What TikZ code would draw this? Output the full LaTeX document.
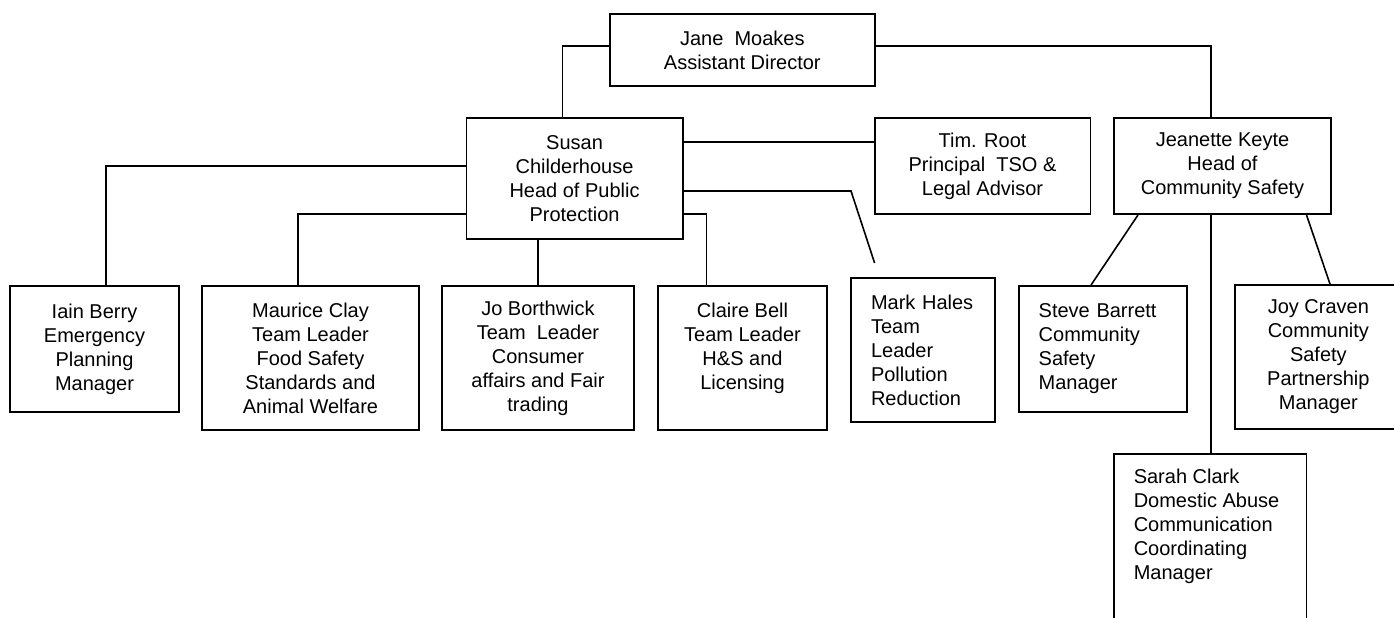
\documentclass[tikz,border=0pt]{standalone}
\usepackage{fontspec}
\setmainfont{Liberation Sans}
\tikzset{
  box/.style={draw, line width=1.9pt, inner sep=0pt, align=center,
    font=\fontsize{20}{24}\selectfont},
  leftbox/.style={box, align=left, inner xsep=20pt},
  txt/.style={inner sep=0pt, align=left, font=\fontsize{20}{24}\selectfont},
  link/.style={line width=1.6pt}
}
\begin{document}
\begin{tikzpicture}[x=1pt,y=-1pt]
\useasboundingbox (0,0) rectangle (1394,618);
\clip (0,0) rectangle (1394,618);
% boxes
\node[box, minimum width=264.6pt, minimum height=72pt] (jane) at (742.3,50) {Jane\ \ Moakes\\Assistant Director};
\node[box, minimum width=216.1pt, minimum height=121pt] (susan) at (574.55,178.5) {Susan\\Childerhouse\\Head of Public\\Protection};
\node[box, minimum width=215.9pt, minimum height=96pt] (tim) at (982.55,166) {Tim. Root\\Principal\ \ TSO \&\\Legal Advisor};
\node[box, minimum width=217pt, minimum height=96pt] (jeanette) at (1222.5,166) {Jeanette Keyte\\Head of\\Community Safety};
\node[box, minimum width=169pt, minimum height=126pt] (iain) at (94.5,349) {Iain Berry\\Emergency\\Planning\\Manager};
\node[box, minimum width=217pt, minimum height=144pt] (maurice) at (310.5,358) {Maurice Clay\\Team Leader\\Food Safety\\Standards and\\Animal Welfare};
\node[box, minimum width=192pt, minimum height=144pt] (jo) at (538,358) {Jo Borthwick\\Team\ \ Leader\\Consumer\\affairs and Fair\\trading};
\node[box, minimum width=169pt, minimum height=144pt] (claire) at (742.5,358) {Claire Bell\\Team Leader\\H\&S and\\Licensing\\\mbox{}};
\node[leftbox, text width=104pt, minimum height=144pt] (mark) at (923,350) {Mark Hales\\Team\\Leader\\Pollution\\Reduction};
\node[leftbox, text width=128.3pt, minimum height=126pt] (steve) at (1102.85,349) {Steve Barrett\\Community\\Safety\\Manager};
\node[box, minimum width=167.3pt, minimum height=144pt] (joy) at (1318.35,357) {Joy Craven\\Community\\Safety\\Partnership\\Manager};
\node[box, minimum width=192.5pt, minimum height=206pt] (sarah) at (1210.25,557) {};
\node[txt, anchor=north west] (sarahtxt) at ([xshift=20.5pt,yshift=-15.5pt]sarah.north west) {Sarah Clark\\Domestic Abuse\\Communication\\Coordinating\\Manager};
% connectors
\draw[link] (jane.west |- 0,46) -| (susan.north -| 562.5,0);
\draw[link] (jane.east |- 0,46) -| (jeanette.north -| 1211,0);
\draw[link] (susan.east |- 0,142) -- (tim.west |- 0,142);
\coordinate (markbend) at (851,191);
\coordinate (markend) at (874.6,263);
\draw[link] (susan.east |- markbend) -- (markbend) -- (markend);
\draw[link] (susan.east |- 0,214) -| (claire.north -| 706.6,0);
\draw[link] (susan.west |- 0,166) -| (iain.north -| 106,0);
\draw[link] (susan.west |- 0,214) -| (maurice.north -| 298,0);
\draw[link] (susan.south -| jo.north) -- (jo.north);
\draw[link] (jeanette.south -| 1138,0) -- (steve.north -| 1091,0);
\draw[link] (jeanette.south -| 1211,0) -- (sarah.north -| 1211,0);
\draw[link] (jeanette.south -| 1306.5,0) -- (joy.north -| 1330,0);
\end{tikzpicture}
\end{document}
